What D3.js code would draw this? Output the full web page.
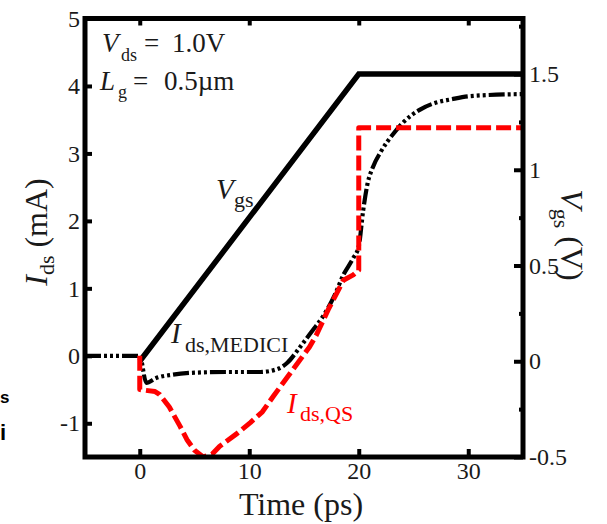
<!DOCTYPE html>
<html>
<head>
<meta charset="utf-8">
<script src="https://cdn.jsdelivr.net/npm/d3@7"></script>
<style>
  html, body { margin: 0; padding: 0; background: #fff; }
  svg text.serif { font-family: "Liberation Serif", "Times New Roman", serif; }
  svg text.sans { font-family: "Liberation Sans", Arial, sans-serif; font-weight: bold; }
</style>
</head>
<body>
<svg id="chart" width="607" height="524"></svg>
<script>
// Tick values
const timeTicks = [0, 10, 20, 30];
const idsTicks = [-1, 0, 1, 2, 3, 4, 5];
const vgsTicks = [-0.5, 0, 0.5, 1, 1.5];
const vgsMinorTicks = [-0.25, 0.25, 0.75, 1.25, 1.75];

// Gate voltage ramp (right axis, V)
const vgsTime = [0, 20, 35];
const vgsVolt = [0, 1.5, 1.5];

// Drain current from the device simulator (left axis, mA)
const mediciTime = [-5, 0, 0.6, 1.5, 3, 5, 8, 11, 12.5, 13.5, 14.5, 15.8, 16.8, 17.8, 18.6, 19.5, 20, 20.4, 20.8, 21.3, 22, 23.2, 24, 25.6, 27, 28.4, 30.2, 35];
const mediciIds  = [0, 0, -0.4, -0.33, -0.28, -0.25, -0.24, -0.24, -0.2, -0.1, 0.1, 0.38, 0.6, 0.9, 1.2, 1.45, 1.62, 2.15, 2.55, 2.8, 3.02, 3.3, 3.45, 3.65, 3.75, 3.8, 3.85, 3.88];

// Drain current from the quasi-static model (left axis, mA)
const qsTime = [0, 0, 1.4, 1.8, 2.7, 3.7, 4.3, 5, 5.8, 6.6, 7.3, 8.9, 10.1, 11.2, 12.2, 13.1, 14, 15.5, 16.1, 17.2, 18.6, 19.5, 20, 20, 35];
const qsIds  = [0, -0.5, -0.53, -0.57, -0.76, -1.05, -1.24, -1.4, -1.5, -1.46, -1.34, -1.15, -0.99, -0.83, -0.6, -0.4, -0.2, 0.13, 0.3, 0.68, 1.12, 1.2, 1.27, 3.38, 3.38];

const svg = d3.select("#chart");
const plot = { left: 85, right: 523, top: 18.5, bottom: 457 };

const x  = d3.scaleLinear().domain([-5, 35]).range([plot.left, plot.right]);
const yI = d3.scaleLinear().domain([-1.5, 5]).range([plot.bottom, plot.top]);
const yV = d3.scaleLinear().domain([-0.5, 1.79]).range([plot.bottom, plot.top]);

svg.append("defs").append("clipPath").attr("id", "plotClip")
  .append("rect")
  .attr("x", plot.left).attr("y", plot.top)
  .attr("width", plot.right - plot.left).attr("height", plot.bottom - plot.top);

const curves = svg.append("g").attr("clip-path", "url(#plotClip)");

// Vgs ramp
const vgsLine = d3.line().x(d => x(d[0])).y(d => yV(d[1]));
curves.append("path")
  .attr("d", vgsLine(d3.zip(vgsTime, vgsVolt)))
  .attr("fill", "none").attr("stroke", "#000").attr("stroke-width", 5.5)
  .attr("stroke-linejoin", "miter");

// MEDICI current: dash-dot-dot
const idsLineSmooth = d3.line().x(d => x(d[0])).y(d => yI(d[1])).curve(d3.curveMonotoneX);
curves.append("path")
  .attr("d", idsLineSmooth(d3.zip(mediciTime, mediciIds)))
  .attr("fill", "none").attr("stroke", "#000").attr("stroke-width", 4.2)
  .attr("stroke-dasharray", "16 3 3 3 3 3 3 3");

// Quasi-static current: red dashes
const idsLine = d3.line().x(d => x(d[0])).y(d => yI(d[1]));
curves.append("path")
  .attr("d", idsLine(d3.zip(qsTime, qsIds)))
  .attr("fill", "none").attr("stroke", "#ff0000").attr("stroke-width", 5)
  .attr("stroke-dasharray", "15 5").attr("stroke-linejoin", "round");

// Axes
function styleAxis(g, size) {
  g.select(".domain").remove();
  g.selectAll(".tick line").attr("stroke", "#000").attr("stroke-width", 4);
  g.selectAll(".tick text").attr("class", "serif").attr("font-size", size).attr("fill", "#1a1a1a");
}
const fmt = d => String(d);

svg.append("g").attr("transform", `translate(${plot.left},0)`)
  .call(d3.axisLeft(yI).tickValues(idsTicks).tickSize(-7).tickPadding(5).tickFormat(fmt))
  .call(g => styleAxis(g, 24));

svg.append("g").attr("transform", `translate(0,${plot.bottom})`)
  .call(d3.axisBottom(x).tickValues(timeTicks).tickSize(-8).tickPadding(5).tickFormat(fmt))
  .call(g => styleAxis(g, 24));

svg.append("g").attr("transform", `translate(0,${plot.top})`)
  .call(d3.axisTop(x).tickValues(timeTicks).tickSize(-7).tickFormat(""))
  .call(g => styleAxis(g, 24));

svg.append("g").attr("transform", `translate(${plot.right},0)`)
  .call(d3.axisRight(yV).tickValues(vgsTicks).tickSize(-9).tickPadding(6).tickFormat(fmt))
  .call(g => styleAxis(g, 24));

svg.append("g").attr("transform", `translate(${plot.right},0)`)
  .call(d3.axisRight(yV).tickValues(vgsMinorTicks).tickSize(-4).tickFormat(""))
  .call(g => styleAxis(g, 24));

// Frame
svg.append("rect")
  .attr("x", plot.left).attr("y", plot.top)
  .attr("width", plot.right - plot.left).attr("height", plot.bottom - plot.top)
  .attr("fill", "none").attr("stroke", "#000").attr("stroke-width", 5);

// Axis titles
const yTitle = svg.append("text").attr("class", "serif")
  .attr("transform", "translate(47,232) rotate(-90)")
  .attr("text-anchor", "middle").attr("font-size", 32).attr("fill", "#1a1a1a");
yTitle.append("tspan").attr("font-style", "italic").text("I");
yTitle.append("tspan").attr("font-size", 22).attr("dy", 7).text("ds");
yTitle.append("tspan").attr("dy", -7).text(" (mA)");

const vTitle = svg.append("text").attr("class", "serif")
  .attr("transform", "translate(561,235) rotate(90)")
  .attr("text-anchor", "middle").attr("font-size", 32).attr("fill", "#1a1a1a");
vTitle.append("tspan").attr("font-style", "italic").text("V");
vTitle.append("tspan").attr("font-size", 22).attr("dy", 7).text("gs");
vTitle.append("tspan").attr("dy", -7).text(" (V)");

svg.append("text").attr("class", "serif").attr("x", 301).attr("y", 515)
  .attr("text-anchor", "middle").attr("font-size", 32).attr("fill", "#1a1a1a")
  .text("Time (ps)");

// Bias annotation
const a1 = svg.append("text").attr("class", "serif").attr("y", 52).attr("font-size", 27).attr("fill", "#1a1a1a");
a1.append("tspan").attr("x", 102).attr("font-style", "italic").text("V");
a1.append("tspan").attr("x", 121).attr("dy", 9).attr("font-size", 18).text("ds");
a1.append("tspan").attr("x", 144).attr("dy", -9).text("=");
a1.append("tspan").attr("x", 172).text("1.0V");

const a2 = svg.append("text").attr("class", "serif").attr("y", 90).attr("font-size", 27).attr("fill", "#1a1a1a");
a2.append("tspan").attr("x", 100).attr("font-style", "italic").text("L");
a2.append("tspan").attr("x", 118).attr("dy", 8).attr("font-size", 18).text("g");
a2.append("tspan").attr("x", 133).attr("dy", -8).text("=");
a2.append("tspan").attr("x", 164).text("0.5µm");

// Curve labels
const lv = svg.append("text").attr("class", "serif").attr("y", 199).attr("font-size", 29).attr("fill", "#1a1a1a");
lv.append("tspan").attr("x", 216).attr("font-style", "italic").text("V");
lv.append("tspan").attr("x", 234).attr("dy", 8).attr("font-size", 22).text("gs");

const lm = svg.append("text").attr("class", "serif").attr("y", 343).attr("font-size", 29).attr("fill", "#1a1a1a");
lm.append("tspan").attr("x", 171).attr("font-style", "italic").text("I");
lm.append("tspan").attr("x", 185).attr("dy", 9).attr("font-size", 22).text("ds,MEDICI");

const lq = svg.append("text").attr("class", "serif").attr("y", 413).attr("font-size", 29).attr("fill", "#ff0000");
lq.append("tspan").attr("x", 287).attr("font-style", "italic").text("I");
lq.append("tspan").attr("x", 300).attr("dy", 8).attr("font-size", 22).text("ds,QS");

// Edge of the neighbouring panel's text
svg.append("text").attr("class", "sans").attr("x", 0).attr("y", 403)
  .attr("font-size", 17).attr("fill", "#000").text("s");
svg.append("text").attr("class", "sans").attr("x", 0).attr("y", 440)
  .attr("font-size", 22).attr("fill", "#000").text("i");
</script>
</body>
</html>
